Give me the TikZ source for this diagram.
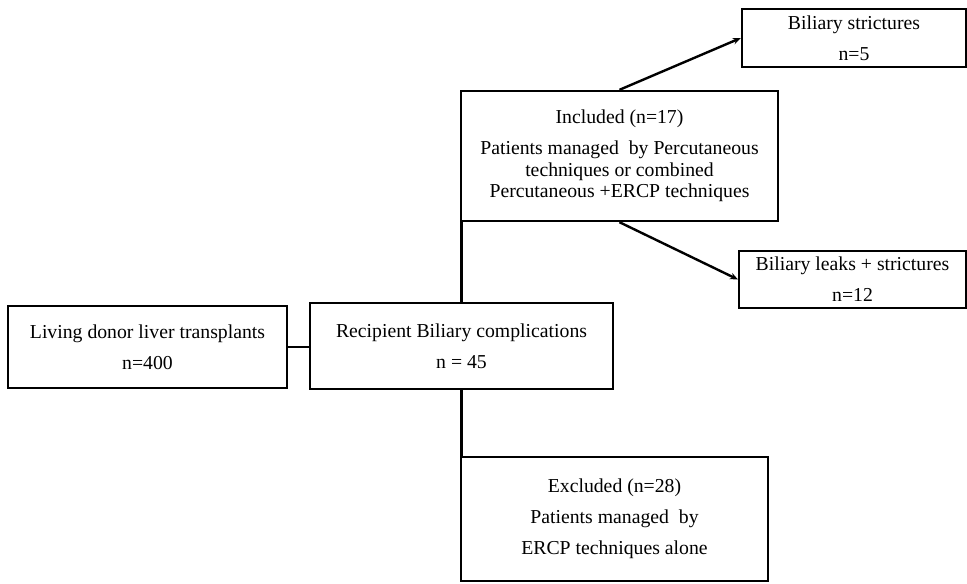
\documentclass[tikz,border=0pt]{standalone}
\usepackage{fontspec}
\setmainfont{Liberation Serif}
\usepackage{tikz}
\usetikzlibrary{arrows.meta}
\tikzset{flowbox/.style = {draw, line width = 1.8pt, align = center, inner sep = 0,
    font = \fontsize{14.8}{16.2}\selectfont},
  link/.style = {line width = 1.8pt},
  arr/.style = {line width = 1.8pt, -{Stealth[length = 6pt, width = 5pt]}}}

\begin{document}
\begin{tikzpicture}[x = 0.75pt, y = -0.75pt]
    \useasboundingbox (0, 0) rectangle (967, 583);

    \node [flowbox, minimum width = 209pt, minimum height = 61.5pt] (donor) at (147.5, 347)
      {Living donor liver transplants\\[7pt] n=400};
    \node [flowbox, minimum width = 227pt, minimum height = 64.5pt] (recip) at (461.5, 346)
      {Recipient Biliary complications\\[7pt] n = 45};
    \node [flowbox, minimum width = 238pt, minimum height = 97.5pt] (incl) at (619.5, 156)
      {Included (n=17)\\[7pt] Patients managed\ \ by Percutaneous\\ techniques or combined\\ Percutaneous +ERCP techniques};
    \node [flowbox, minimum width = 230pt, minimum height = 93pt] (excl) at (614.5, 519)
      {Excluded (n=28)\\[7pt] Patients managed\ \ by\\[7pt] ERCP techniques alone};
    \node [flowbox, minimum width = 168pt, minimum height = 43.5pt] (strict) at (854, 38)
      {Biliary strictures\\[7pt] n=5};
    \node [flowbox, minimum width = 170pt, minimum height = 43pt] (leaks) at (852.5, 279.5)
      {Biliary leaks + strictures\\[7pt] n=12};

    \draw [link] (donor.east) -- (donor.east -| recip.west);
    \draw [link] (recip.north) -- (recip.north |- incl.south);
    \draw [link] (recip.south) -- (recip.south |- excl.north);
    \draw [arr] (incl.north) -- (strict.west);
    \draw [arr] (incl.south) -- (leaks.west);
  \end{tikzpicture}
\end{document}
